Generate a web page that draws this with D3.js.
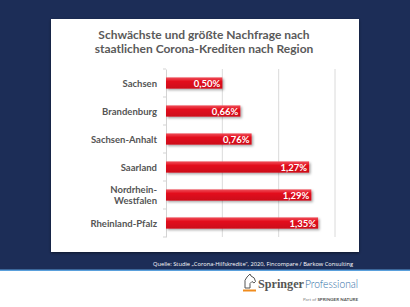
<!DOCTYPE html>
<html>
<head>
<meta charset="utf-8">
<script src="https://cdn.jsdelivr.net/npm/d3@7"></script>
<style>
  body { margin: 0; padding: 0; background: #fff; }
  svg { display: block; }
</style>
</head>
<body>
<div class="canvas"></div>
<script>
// Data

const regions = ["Sachsen", "Brandenburg", "Sachsen-Anhalt", "Saarland", "Nordrhein-Westfalen", "Rheinland-Pfalz"];
const labelLines = [["Sachsen"], ["Brandenburg"], ["Sachsen-Anhalt"], ["Saarland"], ["Nordrhein-", "Westfalen"], ["Rheinland-Pfalz"]];
const values = [0.50, 0.66, 0.76, 1.27, 1.29, 1.35];
const gridTicks = [0, 0.5, 1, 1.5];
const titleLines = ["Schwächste und größte Nachfrage nach", "staatlichen Corona-Krediten nach Region"];
const sourceText = "Quelle: Studie „Corona-Hilfskredite“, 2020, Fincompare / Barkow Consulting";

const W = 410, H = 307;
const font = "Lato, 'Open Sans', sans-serif";

const svg = d3.select(".canvas")
    .append("svg")
        .attr("width", W)
        .attr("height", H);

const defs = svg.append("defs");

const grad = defs.append("linearGradient")
    .attr("id", "barGrad")
    .attr("x1", 0).attr("y1", 0).attr("x2", 0).attr("y2", 1);
grad.append("stop").attr("offset", "0%").attr("stop-color", "#f0505a");
grad.append("stop").attr("offset", "35%").attr("stop-color", "#e3101f");
grad.append("stop").attr("offset", "100%").attr("stop-color", "#cc0a18");

const shadow = defs.append("filter").attr("id", "shadow")
    .attr("x", "-10%").attr("y", "-10%").attr("width", "130%").attr("height", "150%");
shadow.append("feDropShadow")
    .attr("dx", 1.5).attr("dy", 1.5).attr("stdDeviation", 0.8)
    .attr("flood-color", "#000").attr("flood-opacity", 0.35);

const cardShadow = defs.append("filter").attr("id", "cardShadow")
    .attr("x", "-5%").attr("y", "-5%").attr("width", "110%").attr("height", "110%");
cardShadow.append("feDropShadow")
    .attr("dx", 0).attr("dy", 1).attr("stdDeviation", 1.5)
    .attr("flood-color", "#000").attr("flood-opacity", 0.5);

// Navy background
svg.append("rect")
    .attr("x", 0).attr("y", 0)
    .attr("width", W).attr("height", 270)
    .attr("fill", "#1c2d57");

svg.append("rect")
    .attr("x", 0).attr("y", 269.5)
    .attr("width", W).attr("height", 1.5)
    .attr("fill", "#5aa0dc");

// White card
svg.append("rect")
    .attr("x", 51).attr("y", 19)
    .attr("width", 308).attr("height", 233)
    .attr("fill", "#fff")
    .attr("filter", "url(#cardShadow)");

// Title
svg.append("text")
    .attr("x", 204)
    .attr("y", 39)
    .attr("text-anchor", "middle")
    .style("font-family", font)
    .style("font-weight", "bold")
    .style("font-size", "12px")
    .attr("fill", "#5a5a5a")
    .selectAll("tspan")
    .data(titleLines)
    .join("tspan")
        .attr("x", 204)
        .attr("dy", (d, i) => i === 0 ? 0 : 14)
        .text(d => d);

// Scales
const x = d3.scaleLinear()
    .domain([0, 1.5])
    .range([166, 335]);

const y = d3.scaleBand()
    .domain(regions)
    .range([69, 237])
    .paddingInner(0.6)
    .paddingOuter(0.3);

// Vertical gridlines
svg.selectAll(".grid")
    .data(gridTicks.slice(1))
    .join("line")
    .attr("class", "grid")
    .attr("x1", d => x(d))
    .attr("x2", d => x(d))
    .attr("y1", 69)
    .attr("y2", 237)
    .attr("stroke", "#d0d0d0")
    .attr("stroke-width", 0.8);

// y-axis
const yAxis = svg.append("g")
    .attr("transform", `translate(${x(0)},0)`)
    .call(d3.axisLeft(y).tickSize(0).tickFormat(""));
yAxis.select(".domain")
    .attr("stroke", "#c8c8c8")
    .attr("stroke-width", 0.8);

// category boundary ticks
const bounds = d3.range(regions.length + 1).map(i => 69 + i * y.step());
svg.selectAll(".btick")
    .data(bounds)
    .join("line")
    .attr("class", "btick")
    .attr("x1", x(0) - 3)
    .attr("x2", x(0))
    .attr("y1", d => d)
    .attr("y2", d => d)
    .attr("stroke", "#c8c8c8")
    .attr("stroke-width", 0.8);

// Category labels
svg.selectAll(".cat")
    .data(regions)
    .join("text")
    .attr("class", "cat")
    .attr("text-anchor", "end")
    .style("font-family", font)
    .style("font-weight", "bold")
    .style("font-size", "9.5px")
    .attr("fill", "#555")
    .each(function(d, i) {
        const lines = labelLines[i];
        const cy = y(d) + y.bandwidth() / 2;
        const lh = 11;
        d3.select(this).selectAll("tspan")
            .data(lines)
            .join("tspan")
            .attr("x", 157)
            .attr("y", (l, j) => cy + 3.5 + (j - (lines.length - 1) / 2) * lh)
            .text(l => l);
    });

// Bars
svg.selectAll(".bar")
    .data(values)
    .join("rect")
    .attr("class", "bar")
    .attr("x", x(0))
    .attr("y", (d, i) => y(regions[i]))
    .attr("width", d => x(d) - x(0))
    .attr("height", y.bandwidth())
    .attr("fill", "url(#barGrad)")
    .attr("filter", "url(#shadow)");

// Value labels
svg.selectAll(".val")
    .data(values)
    .join("text")
    .attr("class", "val")
    .attr("x", d => x(d) - 2)
    .attr("y", (d, i) => y(regions[i]) + y.bandwidth() / 2 + 3.5)
    .attr("text-anchor", "end")
    .style("font-family", font)
    .style("font-weight", "bold")
    .style("font-size", "9.5px")
    .attr("fill", "#fff")
    .text(d => d.toFixed(2).replace(".", ",") + "%");

// Source
svg.append("text")
    .attr("x", 353)
    .attr("y", 265.5)
    .attr("text-anchor", "end")
    .attr("textLength", 200)
    .attr("lengthAdjust", "spacingAndGlyphs")
    .style("font-family", "'Open Sans', sans-serif")
    .style("font-size", "5.8px")
    .attr("fill", "#fff")
    .text(sourceText);

// Springer Professional logo
const logo = svg.append("g");
logo.append("path")
    .attr("d", "M245,288 l0,-4 q-1,-4 2,-7 l3,-3 l1,2 q4,1 4.5,5.5 l-1.5,1.5 l-2,-1.5 l-2,2 l0,4.5 z")
    .attr("fill", "none")
    .attr("stroke", "#555")
    .attr("stroke-width", 1);
logo.append("rect")
    .attr("x", 243).attr("y", 289.5)
    .attr("width", 13).attr("height", 2)
    .attr("fill", "#f08c1e");

logo.append("text")
    .attr("x", 258)
    .attr("y", 288)
    .attr("textLength", 46)
    .attr("lengthAdjust", "spacingAndGlyphs")
    .style("font-size", "13px")
    .style("font-family", "'Liberation Serif', serif")
    .style("font-weight", "bold")
    .attr("fill", "#555")
    .text("Springer");
logo.append("text")
    .attr("x", 305)
    .attr("y", 288)
    .attr("textLength", 53)
    .attr("lengthAdjust", "spacingAndGlyphs")
    .style("font-size", "12px")
    .style("font-family", "Lato, sans-serif")
    .style("font-weight", "300")
    .attr("fill", "#2e6ea6")
    .text("Professional");

const partText = logo.append("text")
    .attr("x", 358)
    .attr("y", 301)
    .attr("text-anchor", "end")
    .style("font-family", font)
    .style("font-size", "4.5px")
    .attr("fill", "#888");
partText.append("tspan").text("Part of ");
partText.append("tspan")
    .style("font-weight", "bold")
    .attr("fill", "#555")
    .text("SPRINGER NATURE");
</script>
</body>
</html>
